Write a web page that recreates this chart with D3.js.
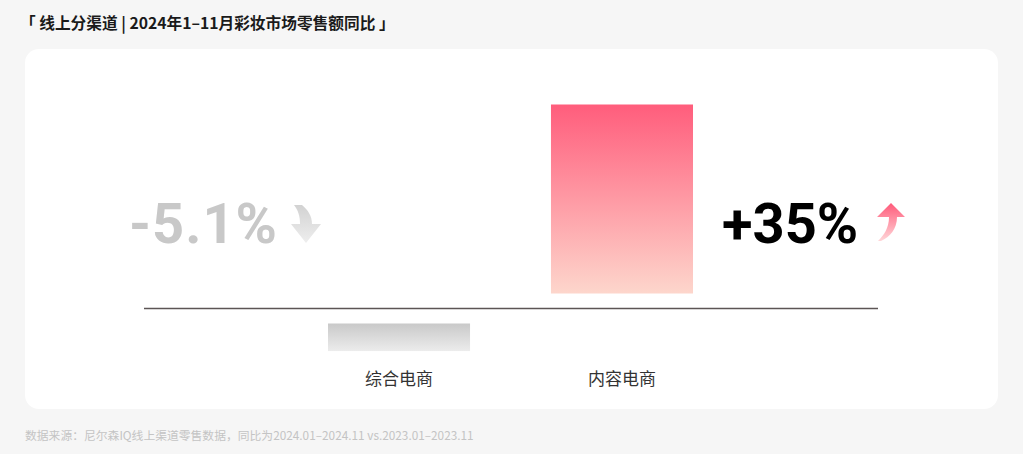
<!DOCTYPE html>
<html lang="zh">
<head>
<meta charset="UTF-8">
<title>线上分渠道 彩妆市场零售额同比</title>
<script src="https://d3js.org/d3.v7.min.js"></script>
<style>
  body { margin: 0; background: #f6f6f6; }
  #chart { width: 1023px; height: 454px; }
  text { font-family: "Noto Sans CJK SC", "Noto Sans", sans-serif; }
  .num { font-family: Roboto, "Noto Sans", sans-serif; font-weight: 700; }
</style>
</head>
<body>
<div id="chart"></div>
<script>
// data
var categories = ["综合电商", "内容电商"];
var values = [-5.1, 35];
var valueLabels = ["-5.1%", "+35%"];
var titleText = "「 线上分渠道 | 2024年1–11月彩妆市场零售额同比 」";
var sourceText = "数据来源：尼尔森IQ线上渠道零售数据，同比为2024.01–2024.11 vs.2023.01–2023.11";

var W = 1023, H = 454;
var baseY = 308.5, gap = 15;

var svg = d3.select("#chart").append("svg")
  .attr("width", W)
  .attr("height", H);

var defs = svg.append("defs");

// gradients
function vGrad(id, top, bottom) {
  var g = defs.append("linearGradient").attr("id", id)
    .attr("x1", 0).attr("y1", 0).attr("x2", 0).attr("y2", 1);
  g.append("stop").attr("offset", "0%").attr("stop-color", top);
  g.append("stop").attr("offset", "100%").attr("stop-color", bottom);
}
vGrad("gPos", "#ff5d7c", "#fdd6cc");
vGrad("gNeg", "#c9c9c9", "#ececec");
vGrad("gUp", "#ff5a7a", "#ffd6d8");
vGrad("gDown", "#d2d2d2", "#eeeeee");

// title
svg.append("text")
  .attr("x", 20).attr("y", 29)
  .attr("font-size", 15.7).attr("font-weight", 700)
  .attr("fill", "#1a1a1a")
  .text(titleText);

// card
svg.append("rect")
  .attr("x", 25).attr("y", 49)
  .attr("width", 973).attr("height", 360)
  .attr("rx", 14).attr("fill", "#fff");

// scales
var x = d3.scaleBand()
  .domain(categories)
  .range([328, 693])
  .paddingInner(0.363)
  .paddingOuter(0);

var h = d3.scaleLinear()
  .domain([0, 35])
  .range([0, 189]);

// bars
svg.selectAll(".bar")
  .data(values)
  .enter().append("rect")
  .attr("class", "bar")
  .attr("x", function (d, i) { return x(categories[i]); })
  .attr("width", x.bandwidth())
  .attr("y", function (d) { return d >= 0 ? baseY - gap - h(d) : baseY + gap; })
  .attr("height", function (d) { return h(Math.abs(d)); })
  .attr("fill", function (d) { return d >= 0 ? "url(#gPos)" : "url(#gNeg)"; });

// baseline
svg.append("line")
  .attr("x1", 144).attr("x2", 878)
  .attr("y1", baseY).attr("y2", baseY)
  .attr("stroke", "#5c5555").attr("stroke-width", 1.5);

// category labels
svg.selectAll(".cat")
  .data(categories)
  .enter().append("text")
  .attr("class", "cat")
  .attr("x", function (d) { return x(d) + x.bandwidth() / 2; })
  .attr("y", 385)
  .attr("text-anchor", "middle")
  .attr("font-size", 17)
  .attr("fill", "#333")
  .text(function (d) { return d; });

// value labels + arrows
var numY = 243;
values.forEach(function (v, i) {
  var left = x(categories[i]), right = left + x.bandwidth();
  if (v < 0) {
    svg.append("text").attr("class", "num")
      .attr("x", left - 50).attr("y", numY)
      .attr("text-anchor", "end")
      .attr("font-size", 56)
      .attr("letter-spacing", 1)
      .attr("fill", "#c8c8c8")
      .text(valueLabels[i]);
    // down arrow
    var ax = left - 22;
    svg.append("path")
      .attr("transform", "translate(" + ax + "," + numY + ")")
      .attr("d", "M-12,-38 L-4,-38 C2,-33 6,-27 6,-19 L15,-19 L0,0 L-15,-19 L-6,-19 C-6,-27 -8,-33 -12,-38 Z")
      .attr("fill", "url(#gDown)");
  } else {
    svg.append("text").attr("class", "num")
      .attr("x", right + 29).attr("y", numY)
      .attr("font-size", 56)
      .attr("fill", "#000")
      .text(valueLabels[i]);
    // up arrow
    var ux = right + 198;
    svg.append("path")
      .attr("transform", "translate(" + ux + "," + numY + ")")
      .attr("d", "M0,-40 L14,-26 L6,-26 C6,-14 -1,-6 -10,-2 L-13,-2 C-7,-8 -2,-15 -2,-26 L-14,-26 Z")
      .attr("fill", "url(#gUp)");
  }
});

// source note
svg.append("text")
  .attr("x", 25).attr("y", 440)
  .attr("font-size", 11.8)
  .attr("fill", "#c4c4c4")
  .text(sourceText);
</script>
</body>
</html>
